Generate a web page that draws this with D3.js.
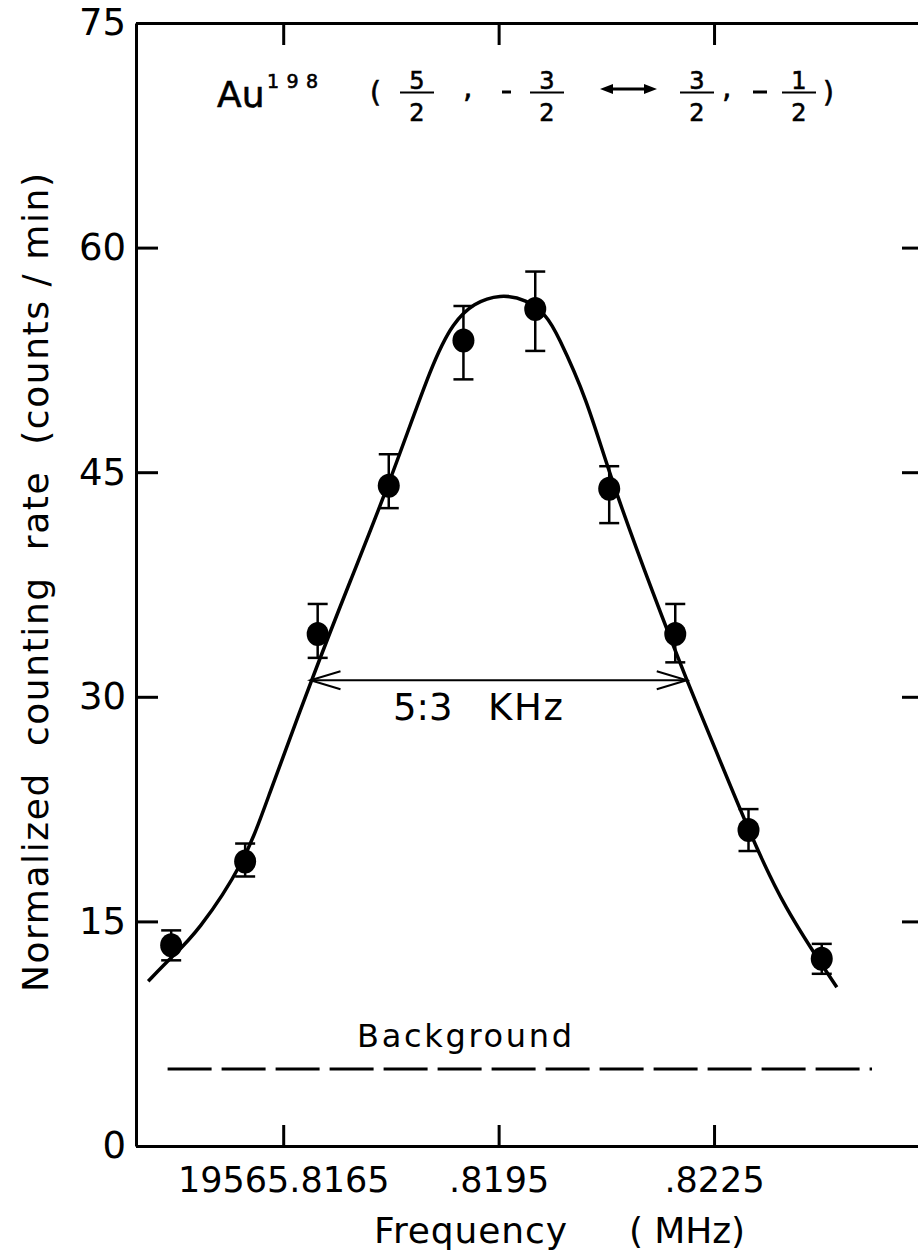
<!DOCTYPE html>
<html>
<head>
<meta charset="utf-8">
<script src="https://cdn.jsdelivr.net/npm/d3@7"></script>
<style>
  html, body { margin: 0; padding: 0; background: #fff; }
  svg { display: block; font-family: "DejaVu Sans", sans-serif; }
  .axis path, .axis line { stroke: #000; stroke-width: 3; }
  .axis text { fill: #000; }
  .ttl text { stroke: #000; stroke-width: 0.6; }
</style>
</head>
<body>
<div id="chart"></div>
<script>
'use strict';

// measured points (frequency in MHz, rate in counts/min)
var freq = [19565.81494, 19565.81597, 19565.81698, 19565.81797, 19565.81901,
            19565.82001, 19565.82104, 19565.82196, 19565.82298, 19565.82400];
var rate = [13.4, 19.0, 34.2, 44.1, 53.8, 55.9, 43.9, 34.2, 21.1, 12.5];
var errLo = [12.4, 18.0, 32.6, 42.6, 51.2, 53.1, 41.6, 32.3, 19.7, 11.5];
var errHi = [14.4, 20.2, 36.2, 46.2, 56.1, 58.4, 45.4, 36.2, 22.5, 13.5];

// fitted curve
var curveFreq = [19565.81462, 19565.81494, 19565.81530, 19565.81597, 19565.81626,
                 19565.81689, 19565.81743, 19565.81800, 19565.81859, 19565.81887,
                 19565.81915, 19565.81952, 19565.81989, 19565.82017, 19565.82031,
                 19565.82073, 19565.82105, 19565.82168, 19565.82212, 19565.82251,
                 19565.82298, 19565.82346, 19565.82421];
var curveRate = [11.0, 12.6, 14.2, 19.0, 22.9, 31.1, 37.7, 44.5, 52.5, 55.0,
                 56.3, 56.9, 56.55, 55.45, 54.3, 49.9, 44.7, 36.5, 31.1, 26.6,
                 21.1, 16.0, 10.6];

var xTicks = [19565.8165, 19565.8195, 19565.8225];
var xTickLabels = ['19565.8165', '.8195', '.8225'];
var yTicks = [0, 15, 30, 45, 60, 75];
var yTicksRight = [15, 30, 45, 60];

var bgLevel = 5.15;
var bgFreq = [19565.81489, 19565.82470];
var fwhmLevel = 31.1;
var fwhmFreq = [19565.81688, 19565.82212];

var W = 918, H = 1260;
var pLeft = 136, pRight = 923, pTop = 23, pBottom = 1146;

var svg = d3.select('#chart').append('svg')
  .attr('width', W).attr('height', H)
  .style('overflow', 'hidden');

var x = d3.scaleLinear().domain([19565.81445, 19565.82541]).range([pLeft, pRight]);
var y = d3.scaleLinear().domain([0, 75]).range([pBottom, pTop]);

// axes, ticks pointing inward on all four sides
svg.append('g').attr('class', 'axis')
  .attr('transform', 'translate(0,' + pBottom + ')')
  .call(d3.axisBottom(x).tickValues(xTicks).tickSize(-21).tickSizeOuter(0)
    .tickPadding(21).tickFormat(function(d, i) { return xTickLabels[i]; }))
  .selectAll('text').attr('font-size', 35).attr('font-family', '"DejaVu Sans", sans-serif');

svg.append('g').attr('class', 'axis')
  .attr('transform', 'translate(0,' + pTop + ')')
  .call(d3.axisTop(x).tickValues(xTicks).tickSize(-22).tickSizeOuter(0).tickFormat(''));

svg.append('g').attr('class', 'axis')
  .attr('transform', 'translate(' + pLeft + ',0)')
  .call(d3.axisLeft(y).tickValues(yTicks).tickSize(-22).tickSizeOuter(0).tickPadding(10))
  .selectAll('text').attr('font-size', 37).attr('font-family', '"DejaVu Sans", sans-serif');

svg.append('g').attr('class', 'axis')
  .attr('transform', 'translate(' + pRight + ',0)')
  .call(d3.axisRight(y).tickValues(yTicksRight).tickSize(-21).tickSizeOuter(0).tickFormat(''));

// axis titles
svg.append('text')
  .attr('transform', 'translate(48,992) rotate(-90)')
  .attr('font-size', 36)
  .attr('textLength', 819).attr('lengthAdjust', 'spacing')
  .attr('xml:space', 'preserve')
  .text('Normalized  counting  rate  (counts / min)');

svg.append('text').attr('x', 374).attr('y', 1243).attr('font-size', 36)
  .attr('textLength', 193).attr('lengthAdjust', 'spacing').text('Frequency');
svg.append('text').attr('x', 629).attr('y', 1243).attr('font-size', 36)
  .attr('textLength', 116).attr('lengthAdjust', 'spacing')
  .attr('xml:space', 'preserve').text('( MHz)');

// background level
svg.append('line')
  .attr('x1', x(bgFreq[0])).attr('x2', x(bgFreq[1]))
  .attr('y1', y(bgLevel)).attr('y2', y(bgLevel))
  .attr('stroke', '#000').attr('stroke-width', 3).attr('stroke-dasharray', '44 10');
svg.append('text').attr('x', 357).attr('y', 1047).attr('font-size', 32)
  .attr('textLength', 215).attr('lengthAdjust', 'spacing').text('Background');

// fitted curve
var line = d3.line()
  .x(function(d) { return x(d[0]); })
  .y(function(d) { return y(d[1]); })
  .curve(d3.curveBasis);
svg.append('path')
  .datum(d3.zip(curveFreq, curveRate))
  .attr('d', line)
  .attr('fill', 'none').attr('stroke', '#000').attr('stroke-width', 3.5);

// error bars and points
var pts = svg.append('g').selectAll('g').data(d3.range(freq.length)).join('g');
pts.append('line')
  .attr('x1', function(i) { return x(freq[i]); })
  .attr('x2', function(i) { return x(freq[i]); })
  .attr('y1', function(i) { return y(errLo[i]); })
  .attr('y2', function(i) { return y(errHi[i]); })
  .attr('stroke', '#000').attr('stroke-width', 2.5);
[errLo, errHi].forEach(function(arr) {
  pts.append('line')
    .attr('x1', function(i) { return x(freq[i]) - 10; })
    .attr('x2', function(i) { return x(freq[i]) + 10; })
    .attr('y1', function(i) { return y(arr[i]); })
    .attr('y2', function(i) { return y(arr[i]); })
    .attr('stroke', '#000').attr('stroke-width', 2.5);
});
pts.append('ellipse')
  .attr('cx', function(i) { return x(freq[i]); })
  .attr('cy', function(i) { return y(rate[i]); })
  .attr('rx', 11).attr('ry', 12)
  .attr('fill', '#000');

// width arrow
var ya = y(fwhmLevel), xa = x(fwhmFreq[0]), xb = x(fwhmFreq[1]);
svg.append('line').attr('x1', xa).attr('x2', xb).attr('y1', ya).attr('y2', ya)
  .attr('stroke', '#000').attr('stroke-width', 2);
svg.append('path')
  .attr('d', 'M' + (xa + 30) + ',' + (ya - 9) + 'L' + xa + ',' + ya + 'L' + (xa + 30) + ',' + (ya + 9) +
             'M' + (xb - 30) + ',' + (ya - 9) + 'L' + xb + ',' + ya + 'L' + (xb - 30) + ',' + (ya + 9))
  .attr('fill', 'none').attr('stroke', '#000').attr('stroke-width', 2);
svg.append('text').attr('x', 393).attr('y', 720).attr('font-size', 37).text('5:3');
svg.append('text').attr('x', 488).attr('y', 720).attr('font-size', 37)
  .attr('textLength', 75).attr('lengthAdjust', 'spacing').text('KHz');

// title: Au198 (5/2, -3/2 <-> 3/2, -1/2)
var t = svg.append('g').attr('class', 'ttl');
t.append('text').attr('x', 217).attr('y', 107).attr('font-size', 36).text('Au');
t.append('text').attr('x', 267).attr('y', 88).attr('font-size', 19)
  .attr('textLength', 51).attr('lengthAdjust', 'spacing').text('198');
t.append('text').attr('x', 370).attr('y', 102).attr('font-size', 28).text('(');
t.append('text').attr('x', 823).attr('y', 102).attr('font-size', 28).text(')');
[[417, '5', '2'], [547, '3', '2'], [697, '3', '2'], [799, '1', '2']].forEach(function(f) {
  t.append('text').attr('x', f[0]).attr('y', 89).attr('font-size', 24)
    .attr('text-anchor', 'middle').text(f[1]);
  t.append('line').attr('x1', f[0] - 17).attr('x2', f[0] + 17).attr('y1', 92.5).attr('y2', 92.5)
    .attr('stroke', '#000').attr('stroke-width', 2.2);
  t.append('text').attr('x', f[0]).attr('y', 121).attr('font-size', 24)
    .attr('text-anchor', 'middle').text(f[2]);
});
t.append('text').attr('x', 463).attr('y', 97).attr('font-size', 30).text(',');
t.append('text').attr('x', 722).attr('y', 97).attr('font-size', 30).text(',');
t.append('line').attr('x1', 502).attr('x2', 511).attr('y1', 92).attr('y2', 92)
  .attr('stroke', '#000').attr('stroke-width', 3);
t.append('line').attr('x1', 753).attr('x2', 767).attr('y1', 92).attr('y2', 92)
  .attr('stroke', '#000').attr('stroke-width', 3);
// double arrow
t.append('line').attr('x1', 608).attr('x2', 649).attr('y1', 89).attr('y2', 89)
  .attr('stroke', '#000').attr('stroke-width', 3);
t.append('path').attr('d', 'M600,89L613,84L613,94Z M657,89L644,84L644,94Z').attr('fill', '#000');
</script>
</body>
</html>
